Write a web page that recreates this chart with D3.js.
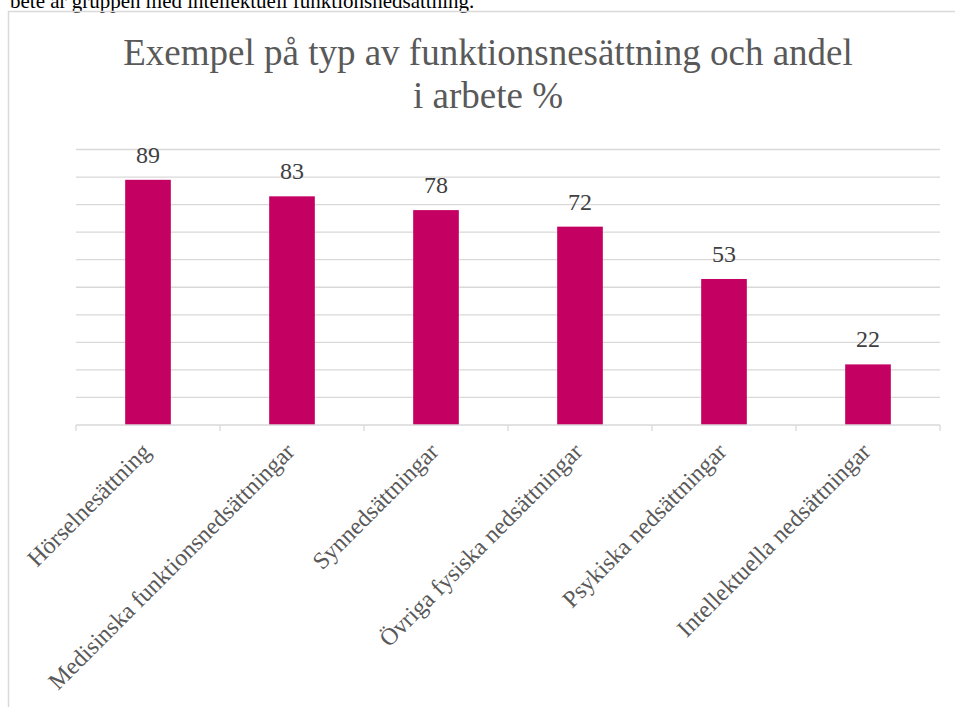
<!DOCTYPE html>
<html>
<head>
<meta charset="utf-8">
<script src="https://cdn.jsdelivr.net/npm/d3@7"></script>
<style>
html,body{margin:0;padding:0;background:#fff;overflow:hidden;}
svg{display:block;}
svg text{font-family:"Liberation Serif","Times New Roman","DejaVu Serif",serif;}
</style>
</head>
<body>
<svg id="c" width="955" height="707"></svg>
<script>
const categories = ["Hörselnesättning","Medisinska funktionsnedsättningar","Synnedsättningar","Övriga fysiska nedsättningar","Psykiska nedsättningar","Intellektuella nedsättningar"];
const values = [89,83,78,72,53,22];
const yTicks = [0,10,20,30,40,50,60,70,80,90,100];
const titleLines = ["Exempel på typ av funktionsnesättning och andel","i arbete %"];
const aboveText = "bete är gruppen med intellektuell funktionsnedsättning.";

const svg = d3.select("#c");

// clipped body text above chart
svg.append("text").attr("x",10).attr("y",7.5).attr("font-size",21).attr("fill","#000").text(aboveText);

// chart border (left & top)
svg.append("path").attr("d","M8.5,707 V11.5 H955").attr("fill","none").attr("stroke","#d9d9d9").attr("stroke-width",1.5);

const m = {left:76, right:940, top:149.5, bottom:425};
const x = d3.scaleBand().domain(categories).range([m.left,m.right]).paddingInner(0.683).paddingOuter(0.3415);
const xb = d3.scaleBand().domain(categories).range([m.left,m.right]);
const y = d3.scaleLinear().domain([0,100]).range([m.bottom,m.top]);

// gridlines
svg.append("g").selectAll("line").data(yTicks.filter(d=>d>0)).join("line")
  .attr("x1",m.left).attr("x2",m.right).attr("y1",d=>y(d)).attr("y2",d=>y(d))
  .attr("stroke","#d9d9d9").attr("stroke-width",1.3);

// bars
svg.append("g").selectAll("rect").data(values).join("rect")
  .attr("x",(d,i)=>x(categories[i])).attr("width",x.bandwidth())
  .attr("y",d=>y(d)).attr("height",d=>y(0)-y(d)).attr("fill","#c40062");

// x axis
const ax = svg.append("g").attr("transform",`translate(0,${y(0)})`);
ax.append("line").attr("x1",m.left).attr("x2",m.right).attr("stroke","#d9d9d9").attr("stroke-width",1.3);
const tickPos = categories.map(c=>xb(c)).concat([m.right]);
ax.selectAll("line.t").data(tickPos).join("line").attr("class","t")
  .attr("x1",d=>d).attr("x2",d=>d).attr("y1",0).attr("y2",6).attr("stroke","#d9d9d9").attr("stroke-width",1.3);

// category labels
svg.append("g").selectAll("text").data(categories).join("text")
  .attr("transform",d=>`translate(${xb(d)+xb.bandwidth()/2+4},${y(0)+28}) rotate(-45)`)
  .attr("text-anchor","end").attr("font-size",24).attr("fill","#595959").text(d=>d);

// data labels
svg.append("g").selectAll("text").data(values).join("text")
  .attr("x",(d,i)=>xb(categories[i])+xb.bandwidth()/2).attr("y",d=>y(d)-17)
  .attr("text-anchor","middle").attr("font-size",24).attr("fill","#404040").text(d=>d);

// title
svg.append("g").selectAll("text").data(titleLines).join("text")
  .attr("x",488).attr("y",(d,i)=>65+i*43).attr("text-anchor","middle")
  .attr("font-size",37).attr("fill","#595959").text(d=>d);
</script>
</body>
</html>
